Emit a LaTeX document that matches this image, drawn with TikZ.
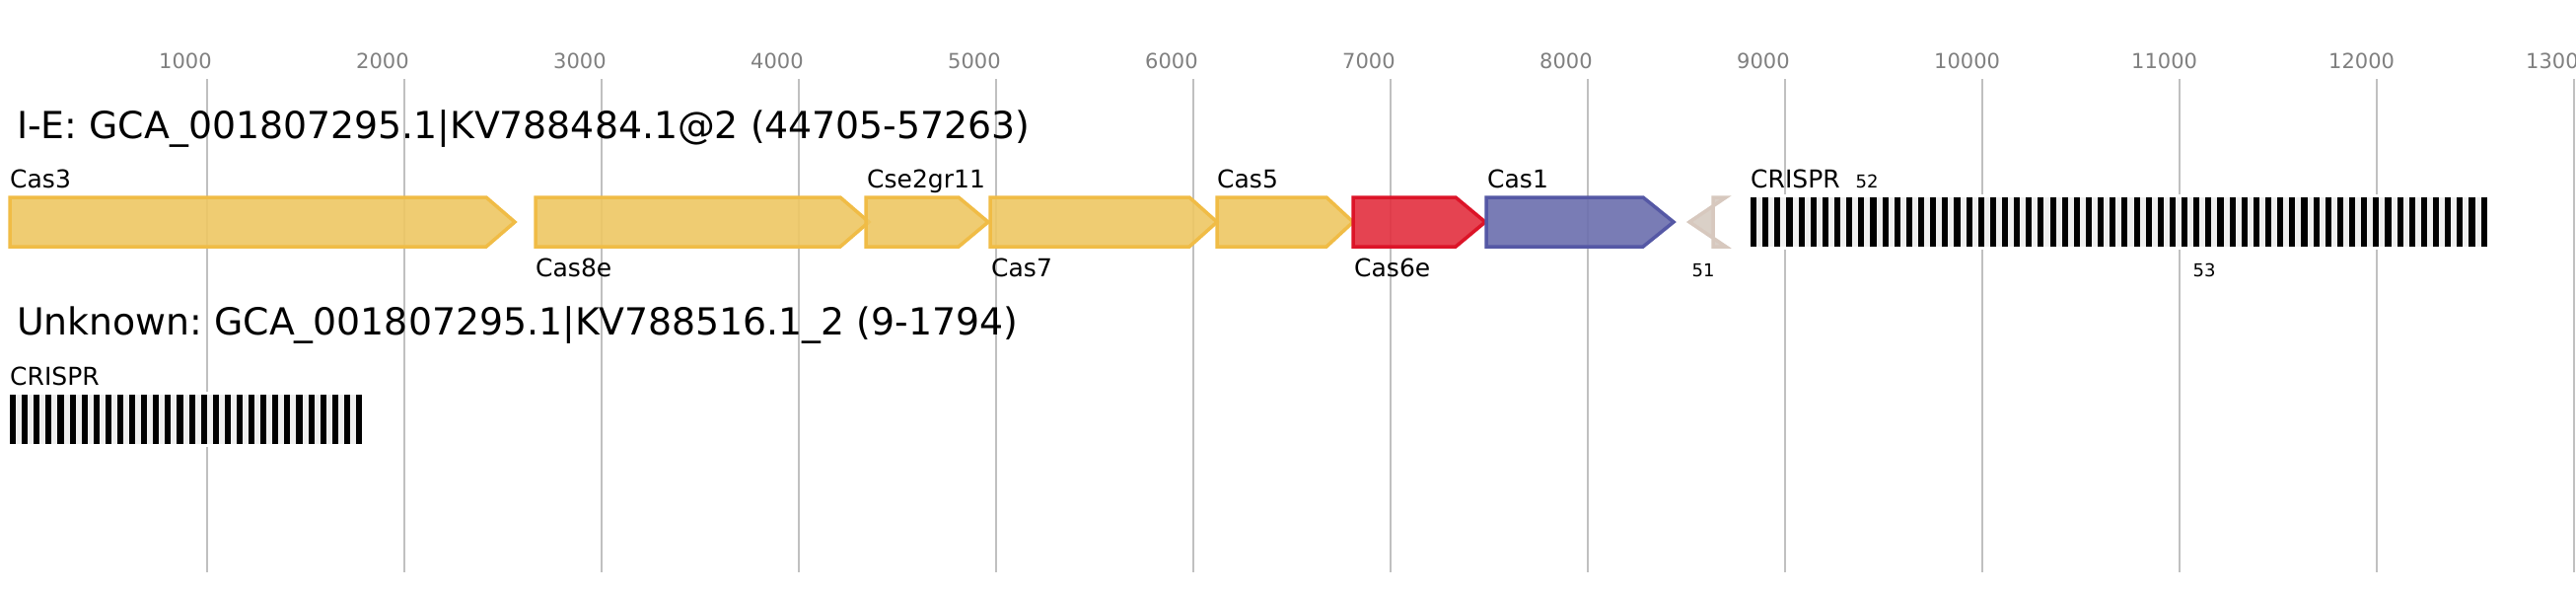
\documentclass[tikz,border=0pt]{standalone}
\usepackage{fontspec}
\setmainfont{DejaVu Sans}
\frenchspacing
\definecolor{gridc}{HTML}{C0C0C0}
\definecolor{tickc}{HTML}{808080}
\definecolor{yelF}{RGB}{238,199,99}
\definecolor{yelD}{RGB}{240,188,70}
\definecolor{redF}{RGB}{227,47,63}
\definecolor{redD}{RGB}{220,20,40}
\definecolor{bluF}{RGB}{107,110,174}
\definecolor{bluD}{RGB}{85,88,165}
\definecolor{tanF}{RGB}{214,203,194}
\definecolor{tanD}{RGB}{215,200,190}
\definecolor{spacer}{HTML}{EFEFEF}
\begin{document}
\begin{tikzpicture}[x=1pt,y=-1pt,
  gridline/.style={draw=gridc,line width=2pt},
  tick/.style={anchor=base west,inner sep=0,text=tickc,font=\fontsize{21}{25}\selectfont},
  titlelab/.style={anchor=base west,inner sep=0,font=\fontsize{37.8}{45}\selectfont},
  lab/.style={anchor=base west,inner sep=0,font=\fontsize{25}{30}\selectfont},
  smalllab/.style={anchor=base,inner sep=0,font=\fontsize{18}{22}\selectfont},
  gene/.style={line width=3.5pt,fill opacity=0.9,line join=miter},
  yel/.style={gene,draw=yelD,fill=yelF},
  redg/.style={gene,draw=redD,fill=redF},
  blug/.style={gene,draw=bluD,fill=bluF},
  tang/.style={gene,draw=tanD,fill=tanF},
  repeatbar/.style={fill=black},
  spacerbg/.style={fill=spacer}
]
\useasboundingbox (0,0) rectangle (2612,600);
\fill[white] (0,0) rectangle (2612,600);
% grid and ticks
\foreach \i in {1,...,13} {
  \draw[gridline] ({10+200*\i},80) -- ({10+200*\i},580);
  \node[tick] (t\i) at ({10+200*\i-49},69.5) {\i000};
}
% titles
\node[titlelab] (title1) at (17,140) {I-E: GCA\_001807295.1|KV788484.1@2 (44705-57263)};
\node[titlelab] (title2) at (17,339) {Unknown: GCA\_001807295.1|KV788516.1\_2 (9-1794)};
% genes
\draw[yel] (10,200) -- (493,200) -- (522,225) -- (493,250) -- (10,250) -- cycle;
\draw[yel] (543,200) -- (852,200) -- (881,225) -- (852,250) -- (543,250) -- cycle;
\draw[yel] (878,200) -- (972,200) -- (1002,225) -- (972,250) -- (878,250) -- cycle;
\draw[yel] (1004,200) -- (1206,200) -- (1234,225) -- (1206,250) -- (1004,250) -- cycle;
\draw[yel] (1234,200) -- (1345,200) -- (1372,225) -- (1345,250) -- (1234,250) -- cycle;
\draw[redg] (1372,200) -- (1476,200) -- (1506,225) -- (1476,250) -- (1372,250) -- cycle;
\draw[blug] (1507,200) -- (1666,200) -- (1697,225) -- (1666,250) -- (1507,250) -- cycle;
\draw[tang] (1737,200) -- (1750,200) -- (1713,225) -- (1750,250) -- (1737,250) -- cycle;
% CRISPR array 1
\fill[white] (1772,197) rectangle (2525,253);
\fill[spacerbg] (1775,200) rectangle (2522,250);
\foreach \k in {0,...,61} \fill[repeatbar] ({1775+12.14*\k},200) rectangle ++(6.1,50);
% CRISPR array 2
\fill[white] (7,397) rectangle (370,453);
\fill[spacerbg] (10,400) rectangle (367,450);
\foreach \k in {0,...,29} \fill[repeatbar] ({10+12.1*\k},400) rectangle ++(6.1,50);
% labels
\node[lab] (lcas3) at (10,190) {Cas3};
\node[lab] (lcas8e) at (543,280) {Cas8e};
\node[lab] (lcse2) at (879,190) {Cse2gr11};
\node[lab] (lcas7) at (1005,280) {Cas7};
\node[lab] (lcas5) at (1234,190) {Cas5};
\node[lab] (lcas6e) at (1373,280) {Cas6e};
\node[lab] (lcas1) at (1508,190) {Cas1};
\node[lab] (lcrispr1) at (1775,190) {CRISPR};
\node[smalllab] (l52) at (1893,190) {52};
\node[smalllab] (l51) at (1727,280) {51};
\node[smalllab] (l53) at (2235,280) {53};
\node[lab] (lcrispr2) at (10,390) {CRISPR};
\end{tikzpicture}
\end{document}
